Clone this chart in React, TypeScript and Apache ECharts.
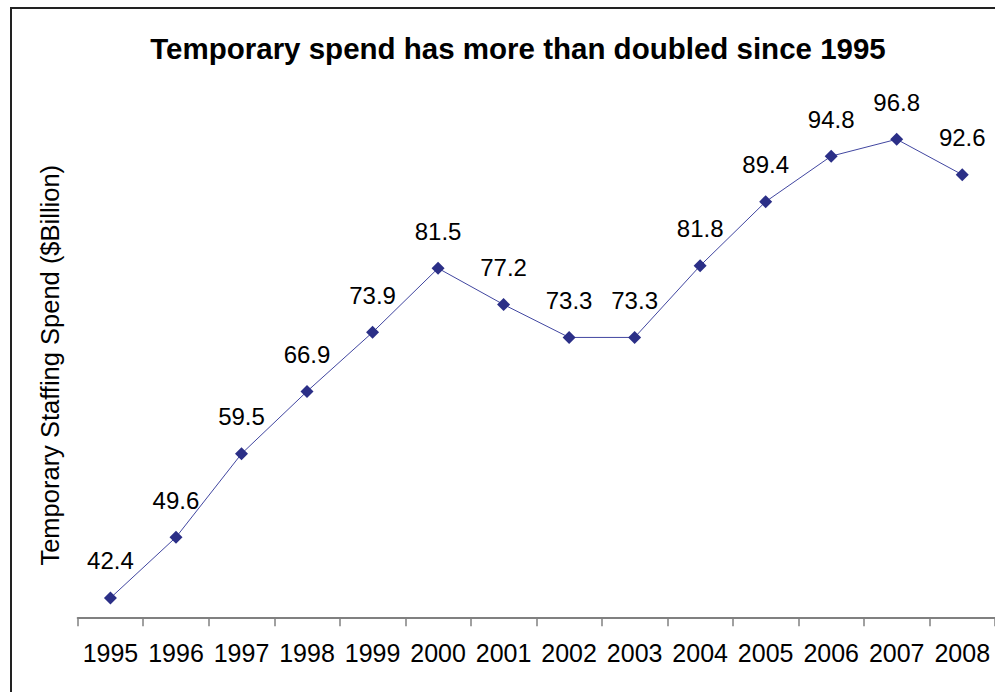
import React, { useEffect, useRef } from "react";
import * as echarts from "echarts";

const years = ["1995", "1996", "1997", "1998", "1999", "2000", "2001", "2002", "2003", "2004", "2005", "2006", "2007", "2008"];
const spend = [42.4, 49.6, 59.5, 66.9, 73.9, 81.5, 77.2, 73.3, 73.3, 81.8, 89.4, 94.8, 96.8, 92.6];
const titleText = "Temporary spend has more than doubled since 1995";
const yAxisName = "Temporary Staffing Spend ($Billion)";

const FONT = "'Liberation Sans', Arial, sans-serif";

export default function App() {
  const ref = useRef<HTMLDivElement>(null);
  useEffect(() => {
    if (!ref.current) return;
    const chart = echarts.init(ref.current, null, { renderer: "svg" });
    chart.setOption({
      animation: false,
      backgroundColor: "#ffffff",
      title: {
        text: titleText,
        left: 513,
        top: 28,
        textAlign: "center",
        textStyle: { fontFamily: FONT, fontSize: 29.5, fontWeight: "bold", color: "#000" },
      },
      graphic: [
        {
          type: "rect",
          shape: { x: 11, y: 8, width: 1100, height: 1100 },
          style: { fill: "none", stroke: "#222", lineWidth: 2 },
          silent: true,
        },
      ],
      grid: { left: 77.7, right: -0.6, top: 112.3, bottom: 73.8, containLabel: false },
      xAxis: {
        type: "category",
        data: years,
        boundaryGap: true,
        axisLine: { show: true, lineStyle: { color: "#808080", width: 2 } },
        axisTick: { show: true, length: 8, alignWithLabel: false, lineStyle: { color: "#808080", width: 1.5 } },
        axisLabel: { fontFamily: FONT, fontSize: 25, color: "#000", margin: 22, interval: 0 },
        splitLine: { show: false },
      },
      yAxis: {
        type: "value",
        min: 40,
        max: 100,
        interval: 10,
        axisLine: { show: false },
        axisTick: { show: false },
        axisLabel: { show: false },
        splitLine: { show: false },
        name: yAxisName,
        nameLocation: "middle",
        nameRotate: 90,
        nameGap: 15,
        nameTextStyle: { fontFamily: FONT, fontSize: 25.5, color: "#000" },
      },
      series: [
        {
          type: "line",
          data: spend,
          symbol: "diamond",
          symbolSize: 13,
          lineStyle: { color: "#4146A0", width: 1 },
          itemStyle: { color: "#2B2F87" },
          label: {
            show: true,
            position: "top",
            distance: 18.5,
            fontFamily: FONT,
            fontSize: 24,
            color: "#000",
            formatter: (p: any) => Number(p.value).toFixed(1),
          },
        },
      ],
    });
    return () => chart.dispose();
  }, []);
  return (
    <div
      ref={ref}
      style={{ position: "fixed", left: 0, top: 0, width: 995, height: 692, background: "#fff" }}
    />
  );
}
